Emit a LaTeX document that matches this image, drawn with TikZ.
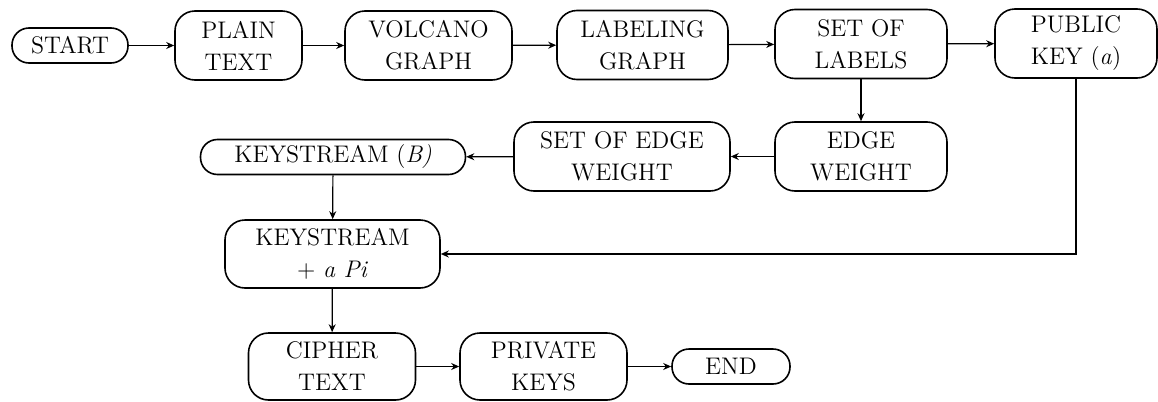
\documentclass[tikz,border=0pt]{standalone}
\usepackage{fontspec}
\usetikzlibrary{arrows.meta,positioning,calc}
\tikzset{
  vegpont/.style={draw,line width=0.8pt,rounded corners=8.5pt,align=center,minimum height=17.5pt,inner sep=2pt},
  lepes/.style={draw,line width=0.8pt,rounded corners=10pt,align=center,minimum height=34.5pt,inner sep=2pt},
  nyilvonal/.style={-{Stealth[length=4pt,width=3.5pt]},line width=0.6pt},
}

\begin{document}
\begin{tikzpicture}[x=0.5pt,y=-0.5pt,font=\fontsize{12}{16}\selectfont]
  \useasboundingbox (0,0) rectangle (1158,402);
  % felso sor
  \node[vegpont,minimum width=58pt] (start) at (70,45.5) {START};
  \node[lepes,minimum width=63.5pt] (plain) at (238.5,45.5) {PLAIN\\TEXT};
  \node[lepes,minimum width=83.5pt] (volcano) at (428.5,45.5) {VOLCANO\\GRAPH};
  \node[lepes,minimum width=85.5pt] (labeling) at (642.5,45) {LABELING\\GRAPH};
  \node[lepes,minimum width=86pt] (labels) at (861,44) {SET OF\\LABELS};
  \node[lepes,minimum width=81pt] (pubkey) at (1076,43.5) {PUBLIC\\KEY (\textit{a})};
  % kozepso sor
  \node[lepes,minimum width=86pt] (edgew) at (861,156.5) {EDGE\\WEIGHT};
  \node[lepes,minimum width=108pt] (setedge) at (622,156.5) {SET OF EDGE\\WEIGHT};
  \node[vegpont,minimum width=132.5pt] (keyB) at (333,157) {KEYSTREAM (\textit{B)}};
  \node[lepes,minimum width=107.5pt,minimum height=34pt] (keyPi) at (332.5,254) {KEYSTREAM\\+ \textit{a Pi}};
  % also sor
  \node[lepes,minimum width=83.5pt,minimum height=33.5pt] (cipher) at (332,366.5) {CIPHER\\TEXT};
  \node[lepes,minimum width=83.5pt,minimum height=33.5pt] (privkeys) at (543.5,366.5) {PRIVATE\\KEYS};
  \node[vegpont,minimum width=59pt] (vege) at (731,366.5) {END};
  % nyilak
  \draw[nyilvonal] (start) -- (plain);
  \draw[nyilvonal] (plain) -- (volcano);
  \draw[nyilvonal] (volcano) -- (labeling);
  \draw[nyilvonal] (labeling) -- (labels);
  \draw[nyilvonal] (labels) -- (pubkey);
  \draw[nyilvonal] (labels) -- (edgew);
  \draw[nyilvonal] (edgew) -- (setedge);
  \draw[nyilvonal] (setedge) -- (keyB);
  \draw[nyilvonal] (keyB) -- (keyPi);
  \draw[nyilvonal] (pubkey.south) |- (keyPi.east);
  \draw[nyilvonal] (keyPi) -- (cipher);
  \draw[nyilvonal] (cipher) -- (privkeys);
  \draw[nyilvonal] (privkeys) -- (vege);
\end{tikzpicture}
\end{document}
